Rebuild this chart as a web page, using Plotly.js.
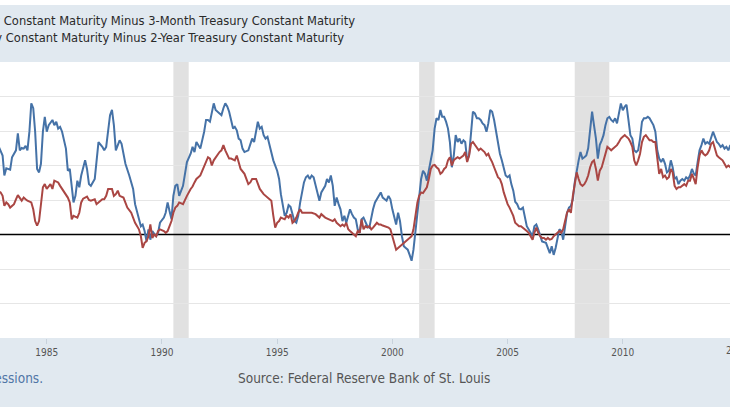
<!DOCTYPE html>
<html><head><meta charset="utf-8">
<script src="https://cdn.plot.ly/plotly-3.0.1.min.js"></script>
<style>html,body{margin:0;padding:0;background:#fff;width:730px;height:410px;overflow:hidden}
#chart{position:absolute;left:0;top:5px;width:730px;height:402px}</style>
</head><body><div id="chart"></div><script>
// 10-Year minus 3-Month (percentage points), monthly readings
var spread3mDates = [
"1982-12","1983-01","1983-02","1983-03","1983-04","1983-06","1983-07","1983-09","1983-10","1983-11","1983-12",
"1984-01","1984-02","1984-03","1984-04","1984-05","1984-06","1984-07","1984-08","1984-09","1984-10","1984-11","1984-12",
"1985-01","1985-02","1985-04","1985-05","1985-06","1985-07","1985-08","1985-09","1985-11","1985-12",
"1986-01","1986-02","1986-03","1986-04","1986-05","1986-06","1986-07","1986-09","1986-10","1986-11","1986-12",
"1987-02","1987-03","1987-04","1987-06","1987-07","1987-08","1987-09","1987-10","1987-11","1987-12",
"1988-01","1988-03","1988-04","1988-06","1988-08","1988-10","1988-11",
"1989-01","1989-02","1989-03","1989-04","1989-05","1989-06","1989-07","1989-08","1989-10","1989-11","1989-12",
"1990-02","1990-03","1990-04","1990-05","1990-06","1990-07","1990-08","1990-09","1990-10","1990-12",
"1991-01","1991-02","1991-04","1991-05","1991-06","1991-07","1991-09","1991-11","1991-12",
"1992-01","1992-02","1992-03","1992-04","1992-05","1992-07","1992-08","1992-09","1992-10","1992-11","1992-12",
"1993-01","1993-02","1993-03","1993-04","1993-05","1993-06","1993-07","1993-08","1993-10","1993-11","1993-12",
"1994-01","1994-02","1994-03","1994-04","1994-05","1994-06","1994-07","1994-08","1994-09","1994-10","1994-11",
"1995-01","1995-02","1995-03","1995-04","1995-05","1995-06","1995-07","1995-08","1995-09","1995-10","1995-11","1995-12",
"1996-01","1996-02","1996-03","1996-04","1996-05","1996-06","1996-07","1996-08","1996-09","1996-10","1996-11","1996-12",
"1997-01","1997-02","1997-03","1997-04","1997-05","1997-06","1997-07","1997-08","1997-09","1997-10","1997-11","1997-12",
"1998-01","1998-02","1998-03","1998-04","1998-05","1998-06","1998-07","1998-08","1998-09","1998-10","1998-11","1998-12",
"1999-01","1999-02","1999-03","1999-04","1999-05","1999-06","1999-07","1999-08","1999-09","1999-10","1999-11","1999-12",
"2000-01","2000-02","2000-03","2000-04","2000-05","2000-06","2000-07","2000-08","2000-09","2000-10","2000-11","2000-12",
"2001-01","2001-02","2001-03","2001-04","2001-05","2001-06","2001-07","2001-08","2001-09","2001-10","2001-11","2001-12",
"2002-01","2002-02","2002-03","2002-04","2002-05","2002-06","2002-07","2002-08","2002-09","2002-10","2002-11","2002-12",
"2003-01","2003-02","2003-03","2003-04","2003-05","2003-06","2003-07","2003-08","2003-09","2003-10","2003-11","2003-12",
"2004-01","2004-02","2004-03","2004-04","2004-05","2004-06","2004-07","2004-08","2004-09","2004-10","2004-11","2004-12",
"2005-01","2005-02","2005-03","2005-04","2005-05","2005-06","2005-07","2005-08","2005-09","2005-10","2005-11",
"2006-01","2006-02","2006-03","2006-04","2006-05","2006-06","2006-07","2006-09","2006-10","2006-11","2006-12",
"2007-01","2007-02","2007-03","2007-04","2007-05","2007-06","2007-08","2007-09","2007-10","2007-11","2007-12",
"2008-01","2008-02","2008-03","2008-04","2008-05","2008-06","2008-07","2008-08","2008-09","2008-10","2008-11","2008-12",
"2009-01","2009-02","2009-03","2009-04","2009-05","2009-06","2009-07","2009-08","2009-09","2009-10","2009-11","2009-12",
"2010-01","2010-02","2010-03","2010-04","2010-05","2010-06","2010-07","2010-08","2010-09","2010-10","2010-11","2010-12",
"2011-01","2011-02","2011-03","2011-04","2011-05","2011-06","2011-07","2011-08","2011-09","2011-10","2011-11","2011-12",
"2012-01","2012-02","2012-03","2012-04","2012-05","2012-06","2012-07","2012-08","2012-09","2012-10","2012-11","2012-12",
"2013-01","2013-02","2013-03","2013-04","2013-05","2013-06","2013-07","2013-08","2013-09","2013-10","2013-11","2013-12",
"2014-01","2014-02","2014-03","2014-04","2014-05","2014-06","2014-07","2014-08","2014-09","2014-10"
];
var spread3mValues = [
2.55,2.44,2.29,1.71,1.92,1.88,2.24,2.44,2.93,2.44,2.51,
2.49,2.57,2.44,2.98,3.80,3.66,2.98,1.90,1.80,2.05,2.98,3.41,
2.98,3.17,3.32,3.17,3.27,3.07,3.12,2.98,2.49,1.85,
1.90,1.32,0.93,1.12,1.56,1.37,1.71,2.15,1.90,1.46,1.41,
1.61,2.20,2.68,2.54,2.44,2.54,3.07,3.46,3.61,3.17,
2.44,2.73,2.63,2.05,1.71,1.32,0.88,
0.49,0.24,0.29,0.10,-0.20,0.15,-0.15,0.10,-0.05,0.05,0.34,
0.49,0.63,0.93,0.68,0.45,1.12,1.41,1.46,1.12,1.41,
1.80,2.10,2.34,2.54,2.39,2.68,2.49,2.98,3.32,
3.32,3.27,3.56,3.80,3.61,3.51,3.46,3.66,3.80,3.71,3.56,
3.32,3.07,3.12,3.02,2.78,2.73,2.49,2.39,2.44,2.63,2.78,
2.68,2.98,3.27,3.07,3.12,2.88,2.78,2.83,2.59,2.34,2.15,
1.85,1.61,1.17,0.83,0.54,0.63,0.85,0.80,0.59,0.39,0.34,0.54,
0.93,1.22,1.51,1.66,1.71,1.61,1.71,1.66,1.41,1.22,0.98,1.22,
1.32,1.41,1.61,1.51,1.71,1.41,0.83,1.07,0.88,0.73,0.39,0.54,
0.34,0.54,0.73,0.59,0.49,0.44,0.15,0.05,0.44,0.49,0.34,0.24,
0.20,0.54,0.73,0.93,1.02,1.12,1.22,1.07,1.02,0.98,1.12,1.02,
0.73,0.54,0.29,0.63,0.39,-0.05,-0.34,-0.39,-0.44,-0.59,-0.76,-0.44,
0.10,0.54,1.02,1.61,1.85,1.76,1.56,1.90,2.24,2.44,3.07,3.37,
3.32,3.61,3.41,3.41,3.27,3.07,2.68,1.95,2.29,2.88,2.68,2.78,
2.63,2.73,2.68,2.15,2.29,3.07,3.56,3.51,3.37,3.37,3.32,3.22,
3.17,2.98,3.22,3.61,3.56,3.32,2.98,2.59,2.34,2.15,1.90,1.71,
1.66,1.71,1.46,1.27,0.95,0.88,0.75,0.73,0.78,0.54,0.24,
0.05,-0.05,0.24,0.29,0.15,-0.05,-0.20,-0.24,-0.39,-0.54,-0.34,
-0.59,-0.39,-0.10,0.15,0.10,-0.15,0.63,0.78,0.83,1.02,1.51,
1.90,2.15,2.39,2.20,2.24,2.29,2.50,3.00,3.56,3.17,2.78,2.20,
2.60,2.73,2.88,3.17,3.37,3.41,3.32,3.27,3.37,3.22,3.51,3.80,
3.60,3.71,3.76,3.32,2.88,2.78,2.44,2.39,2.44,2.78,3.27,3.37,
3.37,3.41,3.37,3.27,3.17,2.98,2.44,2.20,2.10,2.20,2.05,1.80,
1.85,2.15,1.95,1.61,1.66,1.46,1.56,1.61,1.56,1.66,1.61,1.71,
1.90,1.76,1.71,2.10,2.44,2.59,2.78,2.63,2.68,2.63,2.78,2.98,
2.83,2.68,2.63,2.54,2.59,2.49,2.54,2.44,2.59,2.50
];

// 10-Year minus 2-Year (percentage points), monthly readings
var spread2yDates = [
"1982-12","1983-01","1983-02","1983-03","1983-04","1983-05","1983-06","1983-08","1983-09","1983-10","1983-12",
"1984-01","1984-02","1984-03","1984-05","1984-06","1984-07","1984-08","1984-09","1984-10","1984-11","1984-12",
"1985-01","1985-03","1985-04","1985-05","1985-07","1985-08","1985-09","1985-11","1985-12",
"1986-01","1986-02","1986-03","1986-05","1986-06","1986-07","1986-08","1986-10","1986-11","1986-12",
"1987-02","1987-03","1987-04","1987-06","1987-07","1987-08","1987-09","1987-11","1987-12",
"1988-01","1988-02","1988-03","1988-05","1988-06","1988-07","1988-09","1988-10","1988-11",
"1989-01","1989-02","1989-03","1989-04","1989-05","1989-06","1989-07","1989-08","1989-09","1989-10","1989-11","1989-12",
"1990-02","1990-03","1990-04","1990-05","1990-06","1990-07","1990-08","1990-09","1990-10","1990-12",
"1991-01","1991-02","1991-04","1991-05","1991-06","1991-07","1991-09","1991-10","1991-11",
"1992-01","1992-02","1992-03","1992-04","1992-05","1992-07","1992-08","1992-09","1992-10","1992-11","1992-12",
"1993-01","1993-03","1993-04","1993-05","1993-06","1993-08","1993-09","1993-10","1993-11","1993-12",
"1994-02","1994-03","1994-04","1994-06","1994-07","1994-08","1994-10","1994-11","1994-12",
"1995-01","1995-02","1995-03","1995-05","1995-06","1995-07","1995-08","1995-09","1995-10","1995-11","1995-12",
"1996-01","1996-02","1996-03","1996-04","1996-06","1996-07","1996-09","1996-11","1996-12",
"1997-02","1997-04","1997-06","1997-07","1997-08","1997-09","1997-10","1997-11","1997-12",
"1998-01","1998-02","1998-03","1998-04","1998-05","1998-06","1998-07","1998-08","1998-09","1998-10","1998-11","1998-12",
"1999-01","1999-02","1999-03","1999-04","1999-05","1999-06","1999-07","1999-08","1999-09","1999-10","1999-11","1999-12",
"2000-01","2000-02","2000-03","2000-04","2000-05","2000-06","2000-07","2000-08","2000-09","2000-10","2000-11","2000-12",
"2001-01","2001-02","2001-03","2001-04","2001-05","2001-06","2001-07","2001-08","2001-09","2001-10","2001-11","2001-12",
"2002-01","2002-02","2002-03","2002-04","2002-05","2002-06","2002-07","2002-08","2002-09","2002-10","2002-11","2002-12",
"2003-01","2003-02","2003-03","2003-04","2003-05","2003-06","2003-07","2003-08","2003-09","2003-10","2003-11","2003-12",
"2004-01","2004-02","2004-03","2004-04","2004-05","2004-06","2004-07","2004-08","2004-09","2004-10","2004-11","2004-12",
"2005-01","2005-02","2005-03","2005-04","2005-05","2005-06","2005-07","2005-08","2005-09","2005-10","2005-11","2005-12",
"2006-01","2006-02","2006-03","2006-04","2006-05","2006-06","2006-07","2006-08","2006-09","2006-10","2006-11","2006-12",
"2007-01","2007-02","2007-03","2007-04","2007-05","2007-06","2007-07","2007-08","2007-09","2007-10","2007-11","2007-12",
"2008-01","2008-02","2008-03","2008-04","2008-05","2008-06","2008-07","2008-08","2008-09","2008-10","2008-11","2008-12",
"2009-01","2009-02","2009-03","2009-04","2009-05","2009-06","2009-07","2009-08","2009-09","2009-10","2009-11","2009-12",
"2010-01","2010-02","2010-03","2010-04","2010-05","2010-06","2010-07","2010-08","2010-09","2010-10","2010-11","2010-12",
"2011-01","2011-02","2011-03","2011-04","2011-05","2011-06","2011-07","2011-08","2011-09","2011-10","2011-11","2011-12",
"2012-01","2012-02","2012-03","2012-04","2012-05","2012-06","2012-07","2012-08","2012-09","2012-10","2012-11","2012-12",
"2013-01","2013-02","2013-03","2013-04","2013-05","2013-06","2013-07","2013-08","2013-09","2013-10","2013-11","2013-12",
"2014-01","2014-02","2014-03","2014-04","2014-05","2014-06","2014-07","2014-08","2014-09","2014-10"
];
var spread2yValues = [
1.25,1.22,1.12,0.83,0.93,0.88,0.78,0.88,1.02,1.14,0.98,
1.07,1.02,0.98,0.93,0.73,0.39,0.26,0.39,0.93,1.37,1.46,
1.32,1.46,1.32,1.56,1.51,1.41,1.32,1.14,1.07,
0.93,0.44,0.54,0.49,0.63,0.93,1.04,1.10,1.00,0.98,
1.02,0.88,0.93,1.02,1.02,1.12,1.32,1.32,1.12,
1.17,1.27,1.12,1.07,0.93,0.78,0.63,0.49,0.34,
0.15,-0.05,-0.39,-0.24,-0.20,-0.05,0.29,-0.10,0.00,-0.05,0.10,0.15,
0.10,0.05,0.10,0.24,0.39,0.63,0.78,0.83,0.93,0.88,
1.02,1.12,1.32,1.39,1.51,1.61,1.71,1.85,2.00,
2.24,2.20,2.00,2.15,2.24,2.39,2.44,2.59,2.44,2.29,2.20,
2.20,2.15,2.29,2.10,1.90,1.76,1.61,1.46,1.51,1.61,
1.61,1.46,1.32,1.17,1.12,1.07,0.98,0.55,0.20,
0.34,0.39,0.49,0.44,0.54,0.49,0.59,0.34,0.39,0.49,0.63,
0.73,0.63,0.63,0.61,0.61,0.63,0.59,0.49,0.59,
0.49,0.44,0.39,0.44,0.34,0.29,0.24,0.29,0.24,
0.34,0.15,0.10,0.05,0.00,-0.05,0.10,0.05,0.44,0.15,0.24,0.20,
0.24,0.15,0.20,0.29,0.34,0.29,0.29,0.26,0.24,0.24,0.20,0.15,
-0.05,-0.20,-0.44,-0.39,-0.34,-0.29,-0.24,-0.20,-0.15,-0.10,-0.05,0.15,
0.54,0.93,1.12,1.22,1.20,1.27,1.37,1.61,1.90,2.00,2.02,1.95,
1.90,1.76,1.80,1.90,1.95,2.15,2.24,2.00,2.15,2.20,2.24,2.20,
2.24,2.29,2.39,2.10,2.29,2.63,2.68,2.59,2.54,2.44,2.49,2.44,
2.39,2.29,2.34,2.20,2.10,1.95,1.80,1.66,1.61,1.46,1.22,1.02,
0.88,0.78,0.68,0.54,0.34,0.29,0.24,0.24,0.20,0.15,0.10,0.05,
-0.05,-0.15,0.05,0.20,0.05,-0.05,-0.10,-0.10,-0.15,-0.10,-0.15,-0.13,
-0.05,0.00,0.05,0.10,0.05,0.15,0.39,0.63,0.73,0.63,1.12,1.41,
1.80,1.61,1.46,1.41,1.46,1.56,1.71,1.95,2.10,2.15,1.90,1.56,
1.85,1.95,2.15,2.39,2.54,2.49,2.44,2.49,2.54,2.59,2.68,2.78,
2.83,2.88,2.83,2.78,2.68,2.54,2.15,2.00,2.15,2.34,2.68,2.83,
2.88,2.78,2.73,2.73,2.68,2.68,2.29,1.76,1.90,1.66,1.71,1.61,
1.66,1.90,1.80,1.41,1.32,1.37,1.37,1.41,1.46,1.41,1.56,1.56,
1.76,1.61,1.46,1.95,2.29,2.44,2.34,2.29,2.34,2.44,2.63,2.68,
2.44,2.29,2.24,2.20,2.15,2.05,1.95,2.00,1.95,1.95
];

var recessionStarts = ["1990-07-01","2001-03-01","2007-12-01"];
var recessionEnds   = ["1991-03-01","2001-11-01","2009-06-01"];
var tickDates  = ["1985-01-01","1990-01-01","1995-01-01","2000-01-01","2005-01-01","2010-01-01"];
var tickLabels = ["1985","1990","1995","2000","2005","2010"];
var seriesNames = [
  "10-Year Treasury Constant Maturity Minus 3-Month Treasury Constant Maturity",
  "10-Year Treasury Constant Maturity Minus 2-Year Treasury Constant Maturity"
];

var narrow = "'Liberation Sans Narrow', 'DejaVu Sans Condensed', 'Arial Narrow', sans-serif";
var legendFont = "'DejaVu Sans', Verdana, sans-serif";

var traces = [
  {x: spread3mDates, y: spread3mValues, type: "scatter", mode: "lines", name: seriesNames[0],
   line: {color: "#4572a7", width: 2}, hoverinfo: "skip"},
  {x: spread2yDates, y: spread2yValues, type: "scatter", mode: "lines", name: seriesNames[1],
   line: {color: "#aa4643", width: 2}, hoverinfo: "skip"}
];

var shapes = recessionStarts.map(function (s, i) {
  return {type: "rect", xref: "x", yref: "paper", x0: s, x1: recessionEnds[i], y0: 0, y1: 1,
          fillcolor: "#e1e1e1", line: {width: 0}, layer: "between"};
});
shapes.push({type: "line", xref: "paper", yref: "y", x0: 0, x1: 1, y0: 0, y1: 0,
             line: {color: "#000", width: 1.5}, layer: "between"});

var annotations = [
  {text: seriesNames[0], xref: "paper", yref: "paper", x: 0.489, y: 1.149, xanchor: "right", yanchor: "middle",
   showarrow: false, font: {family: legendFont, size: 11.5, color: "#2a2a2a"}},
  {text: seriesNames[1], xref: "paper", yref: "paper", x: 0.474, y: 1.087, xanchor: "right", yanchor: "middle",
   showarrow: false, font: {family: legendFont, size: 11.5, color: "#2a2a2a"}},
  {text: "Shaded areas indicate U.S. recessions.", xref: "paper", yref: "paper", x: 0.0616, y: -0.145,
   xanchor: "right", yanchor: "middle", showarrow: false, font: {family: narrow, size: 13.5, color: "#4f75a6"}},
  {text: "Source: Federal Reserve Bank of St. Louis", xref: "paper", yref: "paper", x: 0.3233, y: -0.145,
   xanchor: "left", yanchor: "middle", showarrow: false, font: {family: narrow, size: 13.5, color: "#555"}},
  {text: "2015", xref: "paper", yref: "paper", x: 1.0108, y: -0.047, xanchor: "center", yanchor: "middle",
   showarrow: false, font: {family: narrow, size: 10, color: "#555"}}
];

var layout = {
  width: 730, height: 402,
  margin: {l: 0, r: 0, t: 57, b: 69, pad: 0},
  paper_bgcolor: "#e1e9f0", plot_bgcolor: "#ffffff",
  showlegend: false,
  xaxis: {type: "date", range: ["1982-12-22", "2014-08-27"], tickmode: "array",
          tickvals: tickDates, ticktext: tickLabels, ticks: "outside", ticklen: 5, tickcolor: "#c8d2dc",
          showgrid: false, zeroline: false, showline: false, fixedrange: true,
          tickfont: {family: narrow, size: 10, color: "#555"}},
  yaxis: {range: [-3, 5], tickmode: "array", tickvals: [-2, -1, 1, 2, 3, 4], showticklabels: false,
          showgrid: true, gridcolor: "#e6e6e6", gridwidth: 1, zeroline: false, showline: false,
          ticks: "", fixedrange: true},
  shapes: shapes,
  annotations: annotations
};

Plotly.newPlot("chart", traces, layout, {staticPlot: true, displayModeBar: false});
</script></body></html>
